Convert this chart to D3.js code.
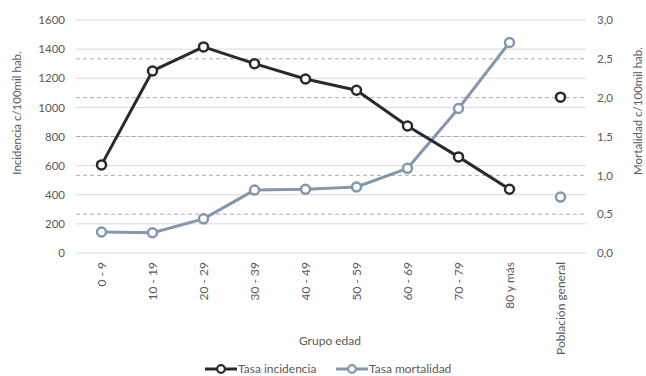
<!DOCTYPE html>
<html><head><meta charset="utf-8">
<script src="https://cdn.jsdelivr.net/npm/d3@7"></script>
<style>body{margin:0;background:#fff;} text{font-family:Lato, "Open Sans", sans-serif;}</style>
</head><body>
<svg id="c" width="646" height="376"></svg>
<script>
const categories = ["0 - 9","10 - 19","20 - 29","30 - 39","40 - 49","50 - 59","60 - 69","70 - 79","80 y más","Población general"];
const incidencia = [605, 1250, 1415, 1300, 1195, 1118, 872, 660, 438, 1070];
const mortalidad = [0.27, 0.26, 0.44, 0.81, 0.82, 0.85, 1.09, 1.86, 2.71, 0.72];
const leftTicks = [0,200,400,600,800,1000,1200,1400,1600];
const rightTicks = [0,0.5,1,1.5,2,2.5,3];

const svg = d3.select("#c");
const x0 = 76, x1 = 586, yTop = 20, yBot = 253;
const x = d3.scaleBand().domain(categories).range([x0, x1]);
const yL = d3.scaleLinear().domain([0,1600]).range([yBot, yTop]);
const yR = d3.scaleLinear().domain([0,3]).range([yBot, yTop]);
const txt = "#595959";
const cInc = "#262a31", cMor = "#8497b0";

// solid gridlines (left axis)
svg.append("g").selectAll("line").data(leftTicks).join("line")
  .attr("x1", x0).attr("x2", x1)
  .attr("y1", d => yL(d)).attr("y2", d => yL(d))
  .attr("stroke", "#d9d9d9").attr("stroke-width", 1);
// dashed gridlines (right axis)
svg.append("g").selectAll("line").data(rightTicks.filter(d => d > 0 && d < 3)).join("line")
  .attr("x1", x0).attr("x2", x1)
  .attr("y1", d => yR(d)).attr("y2", d => yR(d))
  .attr("stroke", "#ababab").attr("stroke-width", 1).attr("stroke-dasharray", "4,3");

// left axis
const gL = svg.append("g").attr("transform", `translate(${x0},0)`)
  .call(d3.axisLeft(yL).tickValues(leftTicks).tickSize(0).tickPadding(11).tickFormat(d3.format("d")));
gL.select(".domain").remove();
gL.selectAll("text").attr("fill", txt).style("font-size", "11.5px").style("font-family", "Lato");

// right axis
const gR = svg.append("g").attr("transform", `translate(${x1},0)`)
  .call(d3.axisRight(yR).tickValues(rightTicks).tickSize(0).tickPadding(11).tickFormat(d => d3.format(".1f")(d).replace(".", ",")));
gR.select(".domain").remove();
gR.selectAll("text").attr("fill", txt).style("font-size", "11.5px").style("font-family", "Lato");

// x axis labels rotated
const gX = svg.append("g").attr("transform", `translate(0,${yBot})`)
  .call(d3.axisBottom(x).tickSize(0).tickPadding(0));
gX.select(".domain").remove();
gX.selectAll("text")
  .attr("transform", "rotate(-90)")
  .attr("x", -9).attr("y", 0).attr("dy", "0.35em")
  .attr("text-anchor", "end")
  .attr("fill", txt).style("font-size", "12px").style("font-family", "Lato");

// axis titles
svg.append("text").attr("transform", "translate(17,113) rotate(-90)")
  .attr("text-anchor", "middle").attr("dy", "0.35em").attr("fill", txt).style("font-size", "11.5px")
  .text("Incidencia c/100mil hab.");
svg.append("text").attr("transform", "translate(638,111) rotate(-90)")
  .attr("text-anchor", "middle").attr("dy", "0.35em").attr("fill", txt).style("font-size", "11.5px")
  .text("Mortalidad c/100mil hab.");
svg.append("text").attr("x", 330).attr("y", 341).attr("dy", "0.35em")
  .attr("text-anchor", "middle").attr("fill", txt).style("font-size", "12px").text("Grupo edad");

const cx = d => x(d) + x.bandwidth()/2;
const n = categories.length - 1; // last point (Población general) not connected
const lineL = d3.line().x((d,i) => cx(categories[i])).y(d => yL(d));
const lineR = d3.line().x((d,i) => cx(categories[i])).y(d => yR(d));

svg.append("path").datum(mortalidad.slice(0, n)).attr("d", lineR)
  .attr("fill", "none").attr("stroke", cMor).attr("stroke-width", 3).attr("stroke-linejoin", "round");
svg.append("path").datum(incidencia.slice(0, n)).attr("d", lineL)
  .attr("fill", "none").attr("stroke", cInc).attr("stroke-width", 3).attr("stroke-linejoin", "round");

svg.append("g").selectAll("circle").data(mortalidad).join("circle")
  .attr("cx", (d,i) => cx(categories[i])).attr("cy", d => yR(d)).attr("r", 4.5)
  .attr("fill", "#fff").attr("stroke", cMor).attr("stroke-width", 2.5);
svg.append("g").selectAll("circle").data(incidencia).join("circle")
  .attr("cx", (d,i) => cx(categories[i])).attr("cy", d => yL(d)).attr("r", 4.5)
  .attr("fill", "#fff").attr("stroke", cInc).attr("stroke-width", 2.5);

// legend
const legend = [{name:"Tasa incidencia", c:cInc, x:205},{name:"Tasa mortalidad", c:cMor, x:336}];
const lg = svg.append("g").selectAll("g").data(legend).join("g")
  .attr("transform", d => `translate(${d.x},369)`);
lg.append("line").attr("x1", 0).attr("x2", 32).attr("stroke", d => d.c).attr("stroke-width", 3);
lg.append("circle").attr("cx", 16).attr("r", 3.8).attr("fill", "#fff").attr("stroke", d => d.c).attr("stroke-width", 2.2);
lg.append("text").attr("x", 33).attr("dy", "0.35em").attr("fill", txt).style("font-size", "12px").text(d => d.name);
</script>
</body></html>
